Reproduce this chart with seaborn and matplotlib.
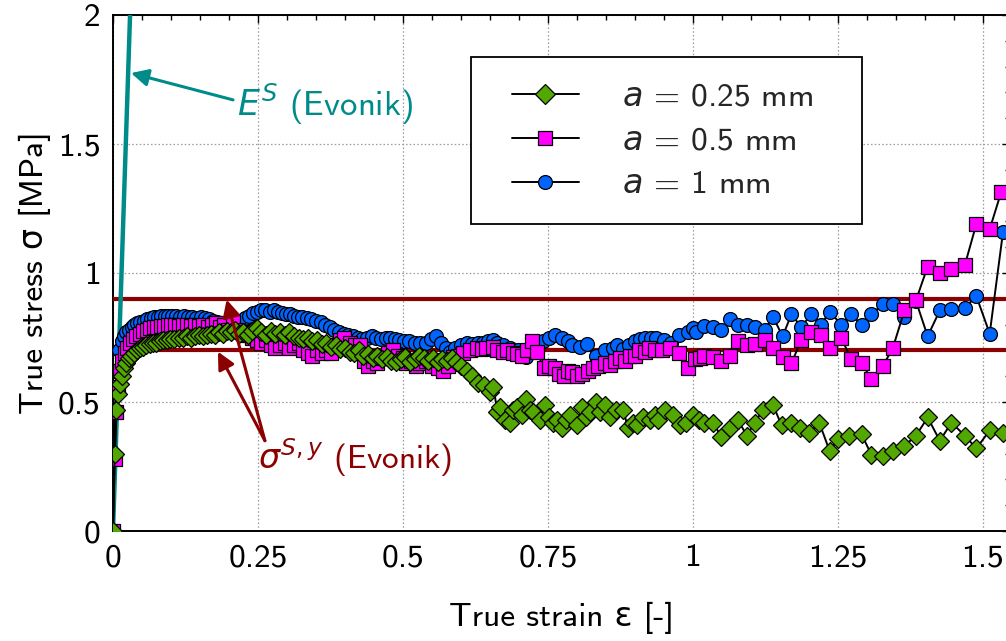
import numpy as np
import pandas as pd
import matplotlib
matplotlib.use("Agg")
import matplotlib.pyplot as plt
from matplotlib.lines import Line2D
from matplotlib.legend_handler import HandlerLine2D
from matplotlib.ticker import MultipleLocator, FixedLocator, FixedFormatter
import seaborn as sns

# ---------------- data ----------------
strain_025 = [0.0, 0.003, 0.006, 0.009, 0.012, 0.015, 0.019, 0.023, 0.027, 0.031, 0.036, 0.041, 0.046, 0.051,
              0.057, 0.063, 0.069, 0.075, 0.081, 0.087, 0.093, 0.099, 0.106, 0.113, 0.120, 0.127, 0.134, 0.141,
              0.148, 0.155, 0.162, 0.169, 0.176, 0.183, 0.190, 0.197, 0.204, 0.211, 0.218, 0.225, 0.232, 0.240,
              0.248, 0.256, 0.264, 0.272, 0.280, 0.288, 0.296, 0.304, 0.312, 0.320, 0.328, 0.336, 0.344, 0.352,
              0.360, 0.368, 0.376, 0.384, 0.392, 0.400, 0.408, 0.416, 0.424, 0.432, 0.440, 0.448, 0.456, 0.464,
              0.472, 0.480, 0.488, 0.496, 0.504, 0.512, 0.520, 0.528, 0.536, 0.544, 0.552, 0.560, 0.568, 0.576,
              0.584, 0.592, 0.600, 0.610, 0.620, 0.630, 0.640, 0.650, 0.656, 0.663, 0.667, 0.676, 0.684, 0.690,
              0.696, 0.705, 0.713, 0.719, 0.725, 0.736, 0.745, 0.752, 0.759, 0.766, 0.774, 0.781, 0.788, 0.800,
              0.808, 0.815, 0.822, 0.833, 0.840, 0.848, 0.857, 0.868, 0.880, 0.888, 0.896, 0.903, 0.914, 0.926,
              0.934, 0.940, 0.952, 0.966, 0.978, 0.989, 1.000, 1.010, 1.020, 1.035, 1.049, 1.064, 1.078, 1.093,
              1.107, 1.121, 1.138, 1.153, 1.170, 1.184, 1.201, 1.218, 1.236, 1.250, 1.270, 1.291, 1.308, 1.328,
              1.345, 1.365, 1.385, 1.405, 1.426, 1.446, 1.469, 1.489, 1.512, 1.535]
stress_025 = [0.0, 0.30, 0.47, 0.53, 0.57, 0.60, 0.63, 0.65, 0.67, 0.68, 0.69, 0.70, 0.71, 0.715,
              0.72, 0.725, 0.73, 0.73, 0.735, 0.74, 0.74, 0.745, 0.745, 0.75, 0.75, 0.755, 0.75, 0.755,
              0.76, 0.755, 0.76, 0.765, 0.76, 0.77, 0.765, 0.775, 0.77, 0.78, 0.765, 0.77, 0.76, 0.775,
              0.785, 0.77, 0.76, 0.775, 0.765, 0.77, 0.76, 0.77, 0.755, 0.75, 0.745, 0.75, 0.735, 0.74,
              0.725, 0.73, 0.715, 0.72, 0.705, 0.71, 0.695, 0.69, 0.70, 0.68, 0.685, 0.67, 0.68, 0.665,
              0.675, 0.66, 0.655, 0.665, 0.675, 0.655, 0.665, 0.68, 0.67, 0.66, 0.67, 0.655, 0.665, 0.66,
              0.67, 0.655, 0.64, 0.62, 0.60, 0.575, 0.565, 0.54, 0.56, 0.46, 0.48, 0.43, 0.42, 0.47,
              0.48, 0.45, 0.51, 0.47, 0.46, 0.43, 0.49, 0.44, 0.42, 0.43, 0.40, 0.43, 0.45, 0.41,
              0.48, 0.44, 0.46, 0.50, 0.46, 0.49, 0.44, 0.47, 0.47, 0.40, 0.42, 0.41, 0.44, 0.43,
              0.45, 0.43, 0.47, 0.45, 0.41, 0.42, 0.45, 0.43, 0.42, 0.42, 0.365, 0.40, 0.43, 0.37,
              0.42, 0.47, 0.49, 0.41, 0.42, 0.40, 0.38, 0.42, 0.31, 0.355, 0.37, 0.375, 0.295, 0.29,
              0.31, 0.33, 0.37, 0.44, 0.35, 0.42, 0.37, 0.32, 0.39, 0.38]

strain_05 = [0.0, 0.003, 0.006, 0.009, 0.012, 0.016, 0.020, 0.025, 0.030, 0.035, 0.040, 0.046, 0.052, 0.058,
             0.064, 0.070, 0.076, 0.082, 0.088, 0.094, 0.100, 0.107, 0.114, 0.121, 0.128, 0.135, 0.142, 0.149,
             0.156, 0.163, 0.170, 0.177, 0.184, 0.191, 0.198, 0.207, 0.215, 0.223, 0.231, 0.240, 0.248, 0.256,
             0.264, 0.272, 0.280, 0.288, 0.296, 0.304, 0.312, 0.320, 0.328, 0.336, 0.344, 0.352, 0.360, 0.368,
             0.376, 0.384, 0.392, 0.398, 0.408, 0.418, 0.426, 0.433, 0.440, 0.448, 0.456, 0.466, 0.474, 0.483,
             0.492, 0.500, 0.506, 0.514, 0.522, 0.530, 0.540, 0.550, 0.560, 0.569, 0.578, 0.587, 0.595, 0.603,
             0.615, 0.627, 0.636, 0.644, 0.655, 0.663, 0.672, 0.680, 0.689, 0.697, 0.706, 0.714, 0.723, 0.731,
             0.743, 0.752, 0.763, 0.770, 0.777, 0.784, 0.791, 0.800, 0.809, 0.820, 0.828, 0.837, 0.849, 0.858,
             0.866, 0.875, 0.883, 0.892, 0.900, 0.908, 0.917, 0.925, 0.934, 0.946, 0.960, 0.977, 0.991, 1.003,
             1.012, 1.020, 1.035, 1.049, 1.064, 1.078, 1.093, 1.107, 1.124, 1.138, 1.155, 1.170, 1.187, 1.204,
             1.221, 1.236, 1.256, 1.273, 1.291, 1.308, 1.328, 1.345, 1.365, 1.385, 1.405, 1.426, 1.446, 1.469,
             1.489, 1.512, 1.532]
stress_05 = [0.0, 0.28, 0.46, 0.56, 0.62, 0.66, 0.69, 0.71, 0.73, 0.745, 0.755, 0.765, 0.775, 0.78,
             0.785, 0.79, 0.79, 0.795, 0.795, 0.80, 0.80, 0.80, 0.795, 0.80, 0.80, 0.795, 0.80, 0.795,
             0.80, 0.79, 0.80, 0.805, 0.79, 0.80, 0.78, 0.81, 0.78, 0.77, 0.76, 0.75, 0.74, 0.73,
             0.74, 0.72, 0.71, 0.72, 0.73, 0.71, 0.72, 0.73, 0.70, 0.69, 0.68, 0.70, 0.69, 0.70,
             0.69, 0.72, 0.74, 0.75, 0.73, 0.72, 0.72, 0.66, 0.64, 0.66, 0.65, 0.67, 0.69, 0.70,
             0.68, 0.67, 0.65, 0.66, 0.64, 0.65, 0.66, 0.64, 0.63, 0.62, 0.64, 0.675, 0.68, 0.69,
             0.70, 0.71, 0.705, 0.71, 0.715, 0.70, 0.695, 0.70, 0.69, 0.685, 0.68, 0.70, 0.735, 0.695,
             0.63, 0.64, 0.63, 0.61, 0.60, 0.62, 0.615, 0.60, 0.61, 0.62, 0.63, 0.64, 0.65, 0.645,
             0.66, 0.67, 0.66, 0.68, 0.68, 0.70, 0.695, 0.71, 0.70, 0.70, 0.71, 0.69, 0.63, 0.665,
             0.67, 0.68, 0.675, 0.66, 0.68, 0.735, 0.72, 0.725, 0.74, 0.71, 0.675, 0.65, 0.74, 0.77,
             0.76, 0.71, 0.75, 0.665, 0.65, 0.59, 0.64, 0.71, 0.855, 0.895, 1.025, 1.00, 1.015, 1.03,
             1.19, 1.17, 1.315]

strain_1 = [0.0, 0.003, 0.007, 0.011, 0.015, 0.019, 0.023, 0.027, 0.032, 0.037, 0.042, 0.047, 0.053, 0.059,
            0.065, 0.071, 0.077, 0.083, 0.089, 0.095, 0.102, 0.109, 0.116, 0.123, 0.130, 0.137, 0.144, 0.151,
            0.158, 0.165, 0.172, 0.179, 0.186, 0.193, 0.200, 0.207, 0.214, 0.221, 0.228, 0.235, 0.242, 0.249,
            0.256, 0.263, 0.270, 0.277, 0.284, 0.291, 0.298, 0.305, 0.312, 0.319, 0.326, 0.334, 0.342, 0.350,
            0.358, 0.366, 0.374, 0.382, 0.390, 0.398, 0.406, 0.414, 0.422, 0.430, 0.438, 0.446, 0.454, 0.462,
            0.470, 0.478, 0.486, 0.494, 0.502, 0.511, 0.520, 0.530, 0.540, 0.548, 0.557, 0.566, 0.575, 0.581,
            0.590, 0.600, 0.610, 0.620, 0.630, 0.638, 0.647, 0.655, 0.662, 0.673, 0.685, 0.699, 0.713, 0.727,
            0.741, 0.752, 0.763, 0.775, 0.785, 0.792, 0.805, 0.818, 0.833, 0.848, 0.862, 0.870, 0.880, 0.890,
            0.900, 0.909, 0.917, 0.927, 0.937, 0.950, 0.963, 0.977, 0.991, 1.000, 1.006, 1.020, 1.035, 1.049,
            1.064, 1.078, 1.093, 1.107, 1.124, 1.138, 1.155, 1.170, 1.187, 1.204, 1.221, 1.236, 1.256, 1.273,
            1.291, 1.308, 1.328, 1.345, 1.365, 1.385, 1.405, 1.426, 1.446, 1.469, 1.489, 1.512, 1.535]
stress_1 = [0.0, 0.47, 0.62, 0.70, 0.735, 0.755, 0.77, 0.78, 0.79, 0.80, 0.805, 0.81, 0.815, 0.82,
            0.825, 0.83, 0.83, 0.835, 0.835, 0.835, 0.835, 0.835, 0.83, 0.835, 0.83, 0.83, 0.825, 0.83,
            0.825, 0.82, 0.815, 0.81, 0.805, 0.80, 0.795, 0.79, 0.795, 0.81, 0.825, 0.835, 0.845, 0.85,
            0.855, 0.855, 0.85, 0.855, 0.85, 0.845, 0.84, 0.84, 0.835, 0.83, 0.83, 0.825, 0.82, 0.815,
            0.81, 0.80, 0.79, 0.78, 0.77, 0.765, 0.76, 0.755, 0.75, 0.745, 0.75, 0.755, 0.75, 0.745,
            0.75, 0.75, 0.745, 0.74, 0.735, 0.735, 0.73, 0.73, 0.73, 0.745, 0.755, 0.73, 0.71, 0.695,
            0.71, 0.72, 0.73, 0.725, 0.73, 0.73, 0.735, 0.74, 0.73, 0.72, 0.71, 0.70, 0.675, 0.70,
            0.735, 0.75, 0.76, 0.75, 0.735, 0.72, 0.715, 0.725, 0.68, 0.70, 0.71, 0.72, 0.705, 0.72,
            0.735, 0.745, 0.75, 0.75, 0.75, 0.74, 0.73, 0.76, 0.77, 0.785, 0.77, 0.795, 0.79, 0.78,
            0.82, 0.80, 0.80, 0.79, 0.78, 0.83, 0.755, 0.84, 0.79, 0.84, 0.80, 0.85, 0.80, 0.84,
            0.80, 0.84, 0.88, 0.88, 0.83, 0.89, 0.755, 0.855, 0.86, 0.865, 0.91, 0.765, 1.16]

series_labels = ["$a$ = 0.25 mm", "$a$ = 0.5 mm", "$a$ = 1 mm"]

es_strain = [0.0, 0.0300]      # E^S (Evonik) line
es_stress = [0.0, 2.04]
sigma_y = [0.70, 0.90]         # sigma^{S,y} (Evonik) bounds

x_ticks = [0, 0.25, 0.5, 0.75, 1, 1.25, 1.5]
x_tick_labels = ["0", "0.25", "0.5", "0.75", "1", "1.25", "1.5"]
y_ticks = [0, 0.5, 1, 1.5, 2]
y_tick_labels = ["0", "0.5", "1", "1.5", "2"]

# ---------------- style ----------------
sns.set_theme(style="white")
plt.rcParams["font.family"] = ["cmss10", "DejaVu Sans"]
plt.rcParams["mathtext.fontset"] = "dejavusans"
plt.rcParams["axes.unicode_minus"] = False

FS = 24
green = "#52a800"
magenta = "#ff00ff"
blue = "#0064ff"
dred = "#8b0000"
teal = "#008b8b"

fig = plt.figure(figsize=(10.06, 6.41), dpi=100)
ax = fig.add_axes([113 / 1006, 110 / 641, 897 / 1006, 516 / 641])

# reference lines
sns.lineplot(x=es_strain, y=es_stress, color=teal, lw=3.2, ax=ax, zorder=4)
for v in sigma_y:
    ax.axhline(v, color=dred, lw=3.0, zorder=3)

specs = [
    (strain_1, stress_1, "o", blue, 10.0, 5),
    (strain_05, stress_05, "s", magenta, 10.0, 6),
    (strain_025, stress_025, "D", green, 9.6, 7),
]
for xs, ys, mk, col, ms, z in specs:
    df = pd.DataFrame({"strain": xs, "stress": ys})
    sns.lineplot(data=df, x="strain", y="stress", estimator=None, sort=False, ax=ax,
                 color="black", lw=1.4, marker=mk, markersize=ms, markerfacecolor=col,
                 markeredgecolor="black", markeredgewidth=0.9, zorder=z)

ax.set_xlim(0, 1.547)
ax.set_ylim(0, 2)
ax.xaxis.set_major_locator(FixedLocator(x_ticks))
ax.xaxis.set_major_formatter(FixedFormatter(x_tick_labels))
ax.yaxis.set_major_locator(FixedLocator(y_ticks))
ax.yaxis.set_major_formatter(FixedFormatter(y_tick_labels))
ax.xaxis.set_minor_locator(MultipleLocator(0.05))
ax.yaxis.set_minor_locator(MultipleLocator(0.1))
ax.tick_params(which="both", direction="in", top=True, right=True, colors="black",
               labelsize=FS, width=1.0)
ax.tick_params(which="major", length=6, pad=9)
ax.tick_params(which="minor", length=3.5)
ax.grid(True, which="major", color="#9a9a9a", lw=0.9, linestyle=(0, (1.2, 1.8)))
ax.set_axisbelow(True)
for s in ax.spines.values():
    s.set_color("black")
    s.set_linewidth(1.4)

ax.set_xlabel("True strain ε [-]", fontsize=FS, labelpad=21, color="black")
ax.set_ylabel("True stress σ [MPa]", fontsize=FS, labelpad=5, color="black")

# annotations
ax.annotate("", xy=(0.031, 1.775), xytext=(0.207, 1.671),
            arrowprops=dict(arrowstyle="-|>", color=teal, lw=2.2, mutation_scale=26, shrinkA=0, shrinkB=0),
            zorder=8)
ax.text(0.213, 1.655, "$E^S$ (Evonik)", color=teal, fontsize=FS + 1, va="center", ha="left", zorder=8)

for tip in [(0.181, 0.695), (0.196, 0.897)]:
    ax.annotate("", xy=tip, xytext=(0.262, 0.35),
                arrowprops=dict(arrowstyle="-|>", color=dred, lw=2.2, mutation_scale=26, shrinkA=0, shrinkB=0),
                zorder=9)
ax.text(0.25, 0.285, "$\\sigma^{S,y}$ (Evonik)", color=dred, fontsize=FS, va="center", ha="left", zorder=9)

# legend
handles = [
    Line2D([], [], color="black", lw=1.4, marker="D", markersize=10, markerfacecolor=green,
           markeredgecolor="black", markeredgewidth=0.9),
    Line2D([], [], color="black", lw=1.4, marker="s", markersize=10, markerfacecolor=magenta,
           markeredgecolor="black", markeredgewidth=0.9),
    Line2D([], [], color="black", lw=1.4, marker="o", markersize=10, markerfacecolor=blue,
           markeredgecolor="black", markeredgewidth=0.9),
]
XPAD = 0.48
leg = ax.legend(handles, series_labels, loc="upper left",
                bbox_to_anchor=(0.399, 0.597, 0.436, 0.3216), mode="expand",
                fontsize=FS, frameon=True, fancybox=False, framealpha=1, edgecolor="black",
                borderpad=0.75, labelspacing=0.44, handlelength=2.0 + XPAD, handletextpad=1.3,
                borderaxespad=0,
                handler_map={Line2D: HandlerLine2D(xpad=XPAD)})
leg.get_frame().set_linewidth(1.3)
leg.set_zorder(10)

fig.savefig("out.png", dpi=100)
